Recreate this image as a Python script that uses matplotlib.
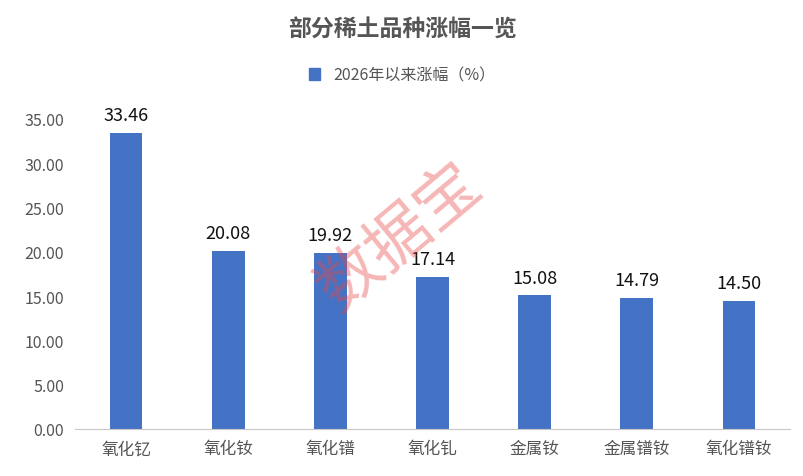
import matplotlib.pyplot as plt
from matplotlib.patches import Patch

plt.rcParams['font.family'] = ['Noto Sans CJK SC', 'DejaVu Sans']

categories = ['氧化钇', '氧化钕', '氧化镨', '氧化钆', '金属钕', '金属镨钕', '氧化镨钕']
values = [33.46, 20.08, 19.92, 17.14, 15.08, 14.79, 14.50]
series_name = '2026年以来涨幅（%）'
yticks = [0, 5, 10, 15, 20, 25, 30, 35]

fig = plt.figure(figsize=(8.04, 4.77), dpi=100)
ax = fig.add_axes([75 / 804, 1 - 430 / 477, 715 / 804, 310 / 477])

x = range(len(categories))
ax.bar(x, values, width=0.32, color='#4472C4', zorder=2)
for xi, v in zip(x, values):
    ax.text(xi, v + 1.0, f'{v:.2f}', ha='center', va='bottom', fontsize=13, color='#111111')

ax.set_xlim(-0.5, len(categories) - 0.5)
ax.set_ylim(0, 35)
ax.set_yticks(yticks)
ax.set_yticklabels([f'{t:.2f}' for t in yticks], fontsize=11.5, color='#555555')
ax.set_xticks(list(x))
ax.set_xticklabels(categories, fontsize=12, color='#555555')
ax.tick_params(length=0, pad=8)
for s in ['left', 'right', 'top']:
    ax.spines[s].set_visible(False)
ax.spines['bottom'].set_color('#c8c8c8')

fig.text(0.5, 1 - 30 / 477, '部分稀土品种涨幅一览', ha='center', va='center',
         fontsize=16.5, fontweight='bold', color='#555555')
fig.legend(handles=[Patch(color='#4472C4', label=series_name)], loc='center',
           bbox_to_anchor=(0.5, 1 - 76 / 477), frameon=False, fontsize=11.5,
           handlelength=0.7, handleheight=0.7, labelcolor='#555555')

fig.text(400 / 804, 1 - 238 / 477, '数据宝', ha='center', va='center', rotation=40,
         fontsize=46, color='#e84848', alpha=0.4)

fig.savefig('out.png', dpi=100)
